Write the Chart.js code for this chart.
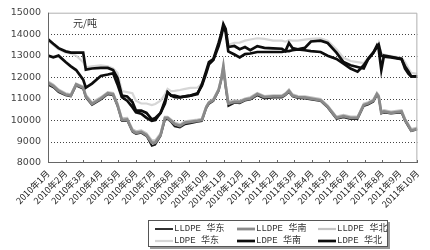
<!DOCTYPE html>
<html>
<head>
<meta charset="utf-8">
<script src="https://cdn.jsdelivr.net/npm/chart.js@4"></script>
<style>
	body { margin: 0; background: #fff; overflow: hidden; }
	canvas { display: block; }
</style>
</head>
<body>
<canvas id="chart" width="430" height="250"></canvas>
<script>
// month index positions of the sampled points (0 = 2010年1月)
const xPos = [0, 0.3, 0.6, 1.0, 1.3, 1.6, 2.0, 2.15, 2.5, 3.0, 3.4, 3.7, 3.95, 4.2, 4.5, 4.8, 5.0, 5.3, 5.6, 5.9,
	6.1, 6.4, 6.65, 6.8, 7.0, 7.2, 7.5, 7.8, 8.1, 8.5, 8.75, 9.0, 9.15, 9.4, 9.7, 9.85, 9.97, 10.1, 10.25, 10.6,
	10.9, 11.2, 11.5, 11.9, 12.3, 12.8, 13.3, 13.5, 13.7, 13.9, 14.2, 14.6, 14.95, 15.5, 15.9, 16.4, 16.8, 17.2, 17.6, 17.95,
	18.2, 18.5, 18.7, 18.8, 18.95, 19.1, 19.5, 20.1, 20.3, 20.5, 20.65, 21.0];

const monthLabels = ["2010年1月", "2010年2月", "2010年3月", "2010年4月", "2010年5月", "2010年6月", "2010年7月",
	"2010年8月", "2010年9月", "2010年10月", "2010年11月", "2010年12月", "2011年1月", "2011年2月", "2011年3月",
	"2011年4月", "2011年5月", "2011年6月", "2011年7月", "2011年8月", "2011年9月", "2011年10月"];

const lldpeEast = [11650, 11520, 11300, 11150, 11100, 11600, 11450, 11050, 10700, 10950, 11200, 11150, 10650, 9950, 9980, 9450, 9350, 9400, 9250, 8800,
	8850, 9250, 10000, 10050, 9900, 9700, 9650, 9800, 9850, 9920, 9950, 10550, 10750, 10880, 11350, 11850, 12400, 11500, 10650, 10800,
	10780, 10900, 10950, 11150, 11000, 11050, 11050, 11150, 11300, 11100, 11020, 11000, 10950, 10880, 10580, 10050, 10130, 10050, 10050, 10650,
	10720, 10850, 11150, 11050, 10300, 10350, 10300, 10350, 9950, 9680, 9480, 9560];
const lldpeSouth = [11730, 11590, 11360, 11190, 11140, 11660, 11500, 11100, 10750, 11000, 11250, 11200, 10700, 10000, 10030, 9500, 9400, 9450, 9300, 8950,
	8950, 9300, 10100, 10100, 9960, 9810, 9730, 9880, 9920, 9960, 10000, 10600, 10800, 10920, 11400, 11900, 12500, 11600, 10770, 10850,
	10840, 10950, 11000, 11210, 11070, 11100, 11100, 11200, 11360, 11140, 11070, 11050, 11000, 10920, 10620, 10100, 10180, 10100, 10100, 10700,
	10770, 10900, 11210, 11100, 10330, 10400, 10330, 10400, 10000, 9730, 9510, 9590];
const lldpeNorth = [11800, 11650, 11420, 11250, 11200, 11700, 11560, 11180, 10820, 11060, 11300, 11260, 10780, 10080, 10100, 9580, 9480, 9520, 9380, 9050,
	9050, 9380, 10150, 10150, 10020, 9880, 9800, 9940, 9980, 10020, 10060, 10650, 10850, 10980, 11450, 11950, 12550, 11700, 10850, 10920,
	10900, 11000, 11060, 11260, 11120, 11150, 11150, 11250, 11420, 11200, 11120, 11100, 11060, 10980, 10680, 10160, 10240, 10160, 10160, 10760,
	10830, 10960, 11270, 11160, 10400, 10460, 10400, 10460, 10060, 9790, 9580, 9650];
const ldpeEast = [13700, 13500, 13300, 13150, 13100, 13000, 12700, 12450, 12500, 12550, 12500, 12400, 12200, 11350, 11300, 11250, 10900, 10770, 10770, 10700,
	10750, 10900, 11200, 11450, 11350, 11360, 11400, 11450, 11500, 11510, 11700, 12200, 12650, 12800, 13500, 14000, 14300, 14200, 13500, 13600,
	13610, 13700, 13750, 13810, 13780, 13700, 13700, 13650, 13720, 13700, 13700, 13750, 13780, 13800, 13700, 13300, 12900, 12750, 12700, 12650,
	12900, 13200, 13400, 13600, 13100, 13050, 12980, 12900, 12700, 12400, 12200, 12150];
const ldpeSouth = [13760, 13550, 13350, 13200, 13140, 13140, 13140, 12350, 12400, 12430, 12430, 12330, 11960, 11140, 11100, 10840, 10440, 10440, 10330, 10030,
	10100, 10330, 10770, 11290, 11140, 11140, 11070, 11100, 11140, 11210, 11660, 12300, 12700, 12840, 13590, 14030, 14470, 14250, 13400, 13450,
	13300, 13400, 13250, 13440, 13360, 13340, 13320, 13210, 13590, 13350, 13290, 13360, 13660, 13700, 13590, 13140, 12700, 12550, 12470, 12400,
	12840, 13140, 13400, 13510, 13000, 12950, 12920, 12840, 12500, 12250, 12030, 12030];
const ldpeNorth = [13000, 12920, 13000, 12700, 12500, 12330, 11880, 11510, 11700, 12050, 12120, 12180, 11660, 11070, 10900, 10600, 10360, 10300, 10100, 9960,
	10000, 10330, 10900, 11290, 11140, 11070, 11050, 11100, 11140, 11250, 11600, 12200, 12600, 12800, 13450, 13900, 14350, 14100, 13200, 13050,
	12920, 13070, 13100, 13170, 13170, 13170, 13170, 13210, 13210, 13250, 13290, 13250, 13210, 13170, 13000, 12850, 12630, 12400, 12250, 12550,
	12840, 13140, 13470, 13300, 12330, 13000, 12950, 12850, 12400, 12150, 12030, 12030];

const seriesNames = ["LLDPE 华东", "LLDPE 华南", "LLDPE 华北", "LDPE 华东", "LDPE 华南", "LDPE 华北"];
const seriesValues = [lldpeEast, lldpeSouth, lldpeNorth, ldpeEast, ldpeSouth, ldpeNorth];
const seriesColors = ["#1a1a1a", "#8a8a8a", "#c4c4c4", "#d6d6d6", "#0d0d0d", "#0d0d0d"];
const seriesWidths = [1.8, 2.8, 2.2, 2.2, 2.7, 2.7];
// lower order is drawn on top
const seriesOrder = [2, 1, 3, 3, 0, 0];

const datasets = seriesValues.map((vals, i) => ({
	label: seriesNames[i],
	data: vals.map((v, j) => ({ x: xPos[j], y: v })),
	borderColor: seriesColors[i],
	backgroundColor: seriesColors[i],
	borderWidth: seriesWidths[i],
	pointRadius: 0,
	tension: 0,
	fill: false,
	order: seriesOrder[i],
}));

// dotted grid lines behind the series
const gridPlugin = {
	id: "dottedGrid",
	beforeDatasetsDraw(chart) {
		const { ctx, chartArea: a, scales } = chart;
		ctx.save();
		ctx.strokeStyle = "#444";
		ctx.lineWidth = 1;
		ctx.setLineDash([1, 2]);
		ctx.beginPath();
		scales.y.ticks.forEach((t) => {
			if (t.value <= scales.y.min || t.value >= scales.y.max) return;
			const y = Math.round(scales.y.getPixelForValue(t.value)) + 0.5;
			ctx.moveTo(a.left, y);
			ctx.lineTo(a.right, y);
		});
		ctx.stroke();
		ctx.restore();
	},
};

// frame, inward x ticks, unit text and the boxed legend
const framePlugin = {
	id: "frame",
	afterDatasetsDraw(chart) {
		const { ctx, chartArea: a, scales } = chart;
		ctx.save();
		ctx.lineWidth = 1;
		ctx.strokeStyle = "#b0b0b0";
		ctx.beginPath();
		ctx.moveTo(a.left, a.top + 0.5);
		ctx.lineTo(a.right - 0.5, a.top + 0.5);
		ctx.lineTo(a.right - 0.5, a.bottom);
		ctx.stroke();
		ctx.strokeStyle = "#666";
		ctx.beginPath();
		ctx.moveTo(a.left + 0.5, a.top);
		ctx.lineTo(a.left + 0.5, a.bottom - 0.5);
		ctx.lineTo(a.right, a.bottom - 0.5);
		for (let m = 0; m < monthLabels.length; m++) {
			const x = Math.round(scales.x.getPixelForValue(m)) + 0.5;
			ctx.moveTo(x, a.bottom);
			ctx.lineTo(x, a.bottom - 3);
		}
		ctx.stroke();

		ctx.fillStyle = "#333";
		ctx.font = '10px "Noto Sans CJK SC"';
		ctx.textBaseline = "middle";
		ctx.fillText("元/吨", a.left + 25, a.top + 11);

		// legend
		const bx = 148, by = 220, bw = 240, bh = 27;
		ctx.fillStyle = "#999";
		ctx.fillRect(bx + 2, by + 2, bw, bh);
		ctx.fillStyle = "#fff";
		ctx.fillRect(bx, by, bw, bh);
		ctx.strokeStyle = "#555";
		ctx.strokeRect(bx + 0.5, by + 0.5, bw - 1, bh - 1);
		const colX = [155, 237, 318];
		const rowY = [229, 241];
		ctx.font = '9px "Liberation Mono", "Noto Sans CJK SC"';
		seriesNames.forEach((name, i) => {
			const x = colX[i % 3];
			const y = rowY[Math.floor(i / 3)];
			ctx.strokeStyle = seriesColors[i];
			ctx.lineWidth = seriesWidths[i];
			ctx.beginPath();
			ctx.moveTo(x, y);
			ctx.lineTo(x + 18, y);
			ctx.stroke();
			ctx.fillStyle = "#333";
			ctx.fillText(name, x + 19, y);
		});
		ctx.restore();
	},
};

new Chart(document.getElementById("chart"), {
	type: "line",
	data: { datasets: datasets },
	options: {
		responsive: false,
		animation: false,
		layout: { padding: { top: 8, right: 5, left: 0, bottom: 0 } },
		plugins: { legend: { display: false }, tooltip: { enabled: false } },
		scales: {
			x: {
				type: "linear",
				min: 0,
				max: monthLabels.length - 1,
				afterFit: (scale) => { scale.height = 87; },
				grid: { display: false, drawTicks: false },
				border: { display: false },
				ticks: {
					stepSize: 1,
					autoSkip: false,
					maxTicksLimit: 40,
					minRotation: 45,
					maxRotation: 45,
					padding: 5,
					color: "#222",
					font: { family: "Noto Sans CJK SC", size: 9 },
					callback: (v) => monthLabels[v],
				},
			},
			y: {
				min: 8000,
				max: 15000,
				afterFit: (scale) => { scale.width = 48; },
				grid: { display: false, drawTicks: false },
				border: { display: false },
				ticks: {
					stepSize: 1000,
					padding: 7,
					color: "#444",
					font: { family: "DejaVu Sans", size: 9.5 },
					callback: (v) => String(v),
				},
			},
		},
	},
	plugins: [gridPlugin, framePlugin],
});
</script>
</body>
</html>
